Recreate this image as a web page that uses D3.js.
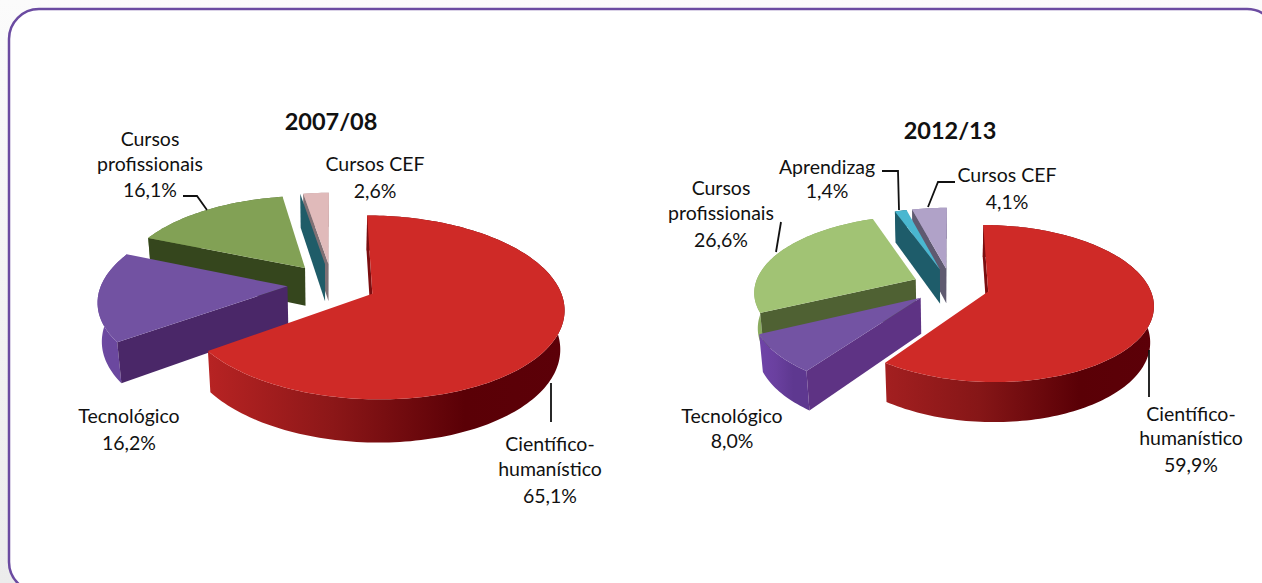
<!DOCTYPE html>
<html>
<head>
<meta charset="utf-8">
<script src="https://cdn.jsdelivr.net/npm/d3@7"></script>
<style>
html, body { margin: 0; padding: 0; background: #fff; overflow: hidden; }
text { font-family: Lato, "Open Sans", sans-serif; fill: #111; }
</style>
</head>
<body>
<script>
// slice order as read clockwise from the top of each pie
var categories = ["Científico-humanístico", "Tecnológico", "Cursos profissionais", "Aprendizag", "Cursos CEF"];
var values2007 = [65.1, 16.2, 16.1, 0, 2.6];
var values2012 = [59.9, 8.0, 26.6, 1.4, 4.1];

var width = 1262, height = 583;

var topColors2007 = ["#cf2a27", "#7252a2", "#82a155", "#1f5c68", "#e0baba"];
var sideColors2007 = ["#7c0e10", "#4a2768", "#35461d", "#1f5c68", "#7f7074"];
var wallColors2007 = [["#b72323", "#8c1718", "#5a0006", "#5c0008"], ["#6f4ba3", "#6b489f", "#6b489f", "#6b489f"], ["#6f8c46", "#5b763a", "#4d6530", "#4d6530"], ["#1f5c68", "#1f5c68", "#1f5c68", "#1f5c68"], ["#b9a0a0", "#b9a0a0", "#b9a0a0", "#b9a0a0"]];

var topColors2012 = ["#cf2a27", "#7353a3", "#a1c374", "#4ab7d0", "#b0a2c8"];
var sideColors2012 = ["#7c0e10", "#5e3384", "#4f6133", "#1e5c6a", "#5f5a70"];
var wallColors2012 = [["#a31f20", "#861617", "#5a0006", "#5c0008"], ["#6f44a8", "#6a409f", "#5e3890", "#5e3890"], ["#8cad60", "#86a65a", "#86a65a", "#86a65a"], ["#1e5c6a", "#1e5c6a", "#1e5c6a", "#1e5c6a"], ["#8f83a5", "#8f83a5", "#8f83a5", "#8f83a5"]];

var svg = d3.select("body").append("svg")
	.attr("width", width)
	.attr("height", height);

var defs = svg.append("defs");

var bg = defs.append("linearGradient").attr("id", "bg").attr("x1", 0).attr("y1", 0).attr("x2", 0).attr("y2", 1);
bg.append("stop").attr("offset", 0).attr("stop-color", "#fbfbfb");
bg.append("stop").attr("offset", 1).attr("stop-color", "#ececec");

svg.append("rect").attr("width", width).attr("height", height).attr("fill", "url(#bg)");
svg.append("rect")
	.attr("x", 9).attr("y", 9)
	.attr("width", 1268).attr("height", 583)
	.attr("rx", 30).attr("ry", 30)
	.attr("fill", "#fff")
	.attr("stroke", "#6b4ba1")
	.attr("stroke-width", 2.5);

var line = d3.line();

function drawPie(id, values, colors, geo) {
	var pie = d3.pie().sort(null).value(function(d){ return d; })
		.startAngle(geo.start)
		.endAngle(geo.start + 2 * Math.PI);

	// disc coords -> screen, with a bit of perspective
	function project(dx, dy, z) {
		var w = 1 + geo.k * dy + geo.m * z;
		return [geo.cx + geo.rx * dx / w, geo.cy + (-geo.ry * dy + geo.depth * z) / w];
	}

	var g = svg.append("g").attr("class", "pie-" + id);
	var arcs = pie(values);

	// back slices first so the front ones cover them
	arcs.slice().reverse().forEach(function(a) {
		var i = a.index;
		var mid = (a.startAngle + a.endAngle) / 2;
		var ox = geo.explode * Math.sin(mid), oy = geo.explode * Math.cos(mid);
		var n = Math.max(1, Math.ceil((a.endAngle - a.startAngle) * 40));
		var angles = d3.range(n + 1).map(function(j){ return a.startAngle + (a.endAngle - a.startAngle) * j / n; });

		var topRim = angles.map(function(t){ return project(ox + Math.sin(t), oy + Math.cos(t), 0); });
		var lowRim = angles.map(function(t){ return project(ox + Math.sin(t), oy + Math.cos(t), 1); }).reverse();
		var tip = project(ox, oy, 0), tipLow = project(ox, oy, 1);

		// outer wall
		var gid = "wall-" + id + "-" + i;
		var wall = defs.append("linearGradient").attr("id", gid)
			.attr("gradientUnits", "userSpaceOnUse")
			.attr("x1", d3.min(topRim, function(p){ return p[0]; })).attr("y1", 0)
			.attr("x2", d3.max(topRim, function(p){ return p[0]; })).attr("y2", 0);
		[0, 0.35, 0.72, 1].forEach(function(o, s) {
			wall.append("stop").attr("offset", o).attr("stop-color", colors.wall[i][s]);
		});
		g.append("path")
			.attr("d", line(topRim.concat(lowRim)) + "Z")
			.attr("fill", "url(#" + gid + ")");

		// radial faces, only the ones turned to the viewer
		// polygonArea has the opposite sign on a y-down screen
		var startFace = [tip, topRim[0], lowRim[lowRim.length - 1], tipLow];
		var endFace = [tip, topRim[topRim.length - 1], lowRim[0], tipLow];
		if (d3.polygonArea(endFace) < 0) {
			g.append("path").attr("d", line(endFace) + "Z").attr("fill", colors.side[i]);
		}
		if (d3.polygonArea(startFace) > 0) {
			g.append("path").attr("d", line(startFace) + "Z").attr("fill", colors.side[i]);
		}

		// top surface
		if (a.endAngle > a.startAngle) {
			g.append("path")
				.attr("d", line([tip].concat(topRim)) + "Z")
				.attr("fill", colors.top[i]);
		}
	});
}

drawPie("2007", values2007,
	{ top: topColors2007, side: sideColors2007, wall: wallColors2007 },
	{ cx: 332, cy: 284, rx: 186, ry: 87, k: 0.147, m: 0.018, depth: 39, explode: 0.24, start: 0 });

drawPie("2012", values2012,
	{ top: topColors2012, side: sideColors2012, wall: wallColors2012 },
	{ cx: 951, cy: 286, rx: 161, ry: 75, k: 0.151, m: 0.018, depth: 36, explode: 0.24, start: 0 });

// leader lines
var leaders = [
	[[183,196],[197,196],[207,210]],
	[[551,383],[551,422]],
	[[882,171],[898,171],[899,210]],
	[[955,182],[938,182],[928,207]],
	[[781,222],[776,252]],
	[[1149,350],[1149,397]]
];
svg.selectAll(".leader").data(leaders).enter().append("path")
	.attr("class", "leader")
	.attr("d", line)
	.attr("fill", "none")
	.attr("stroke", "#111")
	.attr("stroke-width", 1.8);

// labels: lines of text, centre x, baseline of each line
var fmt = function(v){ return v.toFixed(1).replace(".", ",") + "%"; };
var labels = [
	{ lines: ["Cursos", "profissionais", fmt(values2007[2])], x: 150, y: [146, 171, 197] },
	{ lines: ["Cursos CEF", fmt(values2007[4])], x: 375, y: [171, 198] },
	{ lines: ["Tecnológico", fmt(values2007[1])], x: 129, y: [423, 450] },
	{ lines: ["Científico-", "humanístico", fmt(values2007[0])], x: 550, y: [451, 476, 503] },
	{ lines: ["Aprendizag", fmt(values2012[3])], x: 827, y: [174, 198] },
	{ lines: ["Cursos CEF", fmt(values2012[4])], x: 1007, y: [182, 209] },
	{ lines: ["Cursos", "profissionais", fmt(values2012[2])], x: 721, y: [195, 220, 247] },
	{ lines: ["Tecnológico", fmt(values2012[1])], x: 732, y: [423, 448] },
	{ lines: ["Científico-", "humanístico", fmt(values2012[0])], x: 1191, y: [421, 445, 472] }
];
labels.forEach(function(l) {
	l.lines.forEach(function(t, i) {
		svg.append("text")
			.attr("x", l.x).attr("y", l.y[i])
			.attr("text-anchor", "middle")
			.style("font-size", "19.5px")
			.text(t);
	});
});

svg.append("text").attr("x", 331).attr("y", 130).attr("text-anchor", "middle")
	.style("font-size", "23.5px").style("font-weight", 700).text("2007/08");
svg.append("text").attr("x", 950).attr("y", 139).attr("text-anchor", "middle")
	.style("font-size", "23.5px").style("font-weight", 700).text("2012/13");
</script>
</body>
</html>
